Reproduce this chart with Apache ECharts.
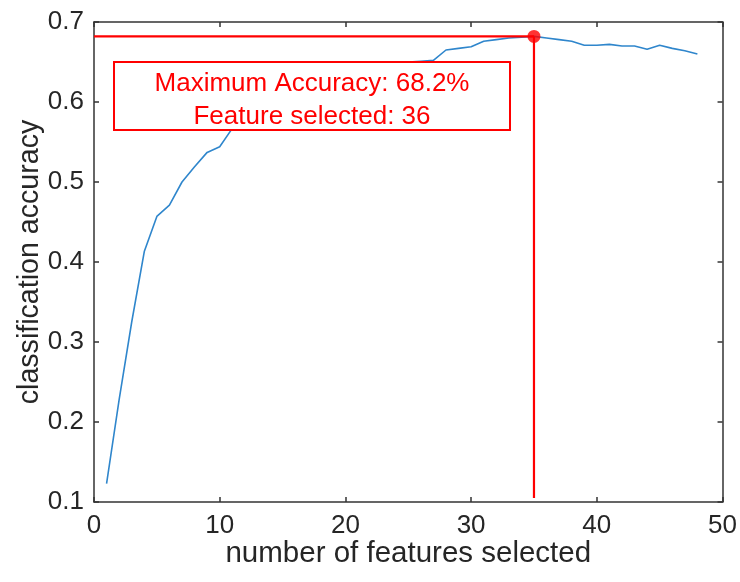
<!DOCTYPE html>
<html>
<head>
<meta charset="utf-8">
<script src="https://cdn.jsdelivr.net/npm/echarts@6/dist/echarts.min.js"></script>
<style>
  html, body { margin: 0; padding: 0; background: #ffffff; }
  #chart { width: 740px; height: 582px; }
</style>
</head>
<body>
<div id="chart"></div>
<script>
// Number of features kept at each step
const featureCounts = [
  1, 2, 3, 4, 5, 6, 7, 8, 9, 10,
  11, 12, 13, 14, 15, 16, 17, 18, 19, 20,
  21, 22, 23, 24, 25, 26, 27, 28, 29, 30,
  31, 32, 33, 34, 35, 36, 37, 38, 39, 40,
  41, 42, 43, 44, 45, 46, 47, 48
];
// Classification accuracy for each feature count
const accuracy = [
  0.123, 0.228, 0.325, 0.413, 0.457, 0.471, 0.500, 0.519, 0.537, 0.544,
  0.567, 0.583, 0.596, 0.606, 0.613, 0.620, 0.626, 0.631, 0.635, 0.638,
  0.641, 0.644, 0.646, 0.648, 0.650, 0.651, 0.652, 0.665, 0.667, 0.669,
  0.676, 0.678, 0.680, 0.681, 0.682, 0.680, 0.678, 0.676, 0.671, 0.671,
  0.672, 0.670, 0.670, 0.666, 0.671, 0.667, 0.664, 0.660
];
// Axis ranges and tick labels
const xTicks = [0, 10, 20, 30, 40, 50];
const yTicks = ['0.1', '0.2', '0.3', '0.4', '0.5', '0.6', '0.7'];
// Reported result of the selection
const featuresSelected = 36;
const dropLineBottom = 0.105;

// Locate the best accuracy on the curve
let bestIdx = 0;
accuracy.forEach((v, i) => { if (v > accuracy[bestIdx]) bestIdx = i; });
const bestX = featureCounts[bestIdx];
const bestY = accuracy[bestIdx];

const xMin = xTicks[0], xMax = xTicks[xTicks.length - 1];
const yMin = parseFloat(yTicks[0]), yMax = parseFloat(yTicks[yTicks.length - 1]);

const FONT = "'Liberation Sans', Arial, Helvetica, sans-serif";
const AXIS_COLOR = '#333333';
const TEXT_COLOR = '#262626';
const RED = '#ff0000';

const chart = echarts.init(document.getElementById('chart'), null, { renderer: 'canvas' });

function xAxisDef(pos, showLabel) {
  return {
    type: 'value', position: pos, min: xMin, max: xMax, interval: 10,
    axisLine: { show: true, onZero: false, lineStyle: { color: AXIS_COLOR, width: 1.5 } },
    axisTick: { show: true, inside: true, length: 5, lineStyle: { color: AXIS_COLOR, width: 1.5 } },
    axisLabel: { show: showLabel, margin: 11, fontSize: 26, fontFamily: FONT, color: TEXT_COLOR },
    splitLine: { show: false },
    name: showLabel ? 'number of features selected' : '',
    nameLocation: 'middle', nameGap: 37, nameMoveOverlap: false,
    nameTextStyle: { fontSize: 29.5, fontFamily: FONT, color: TEXT_COLOR }
  };
}
function yAxisDef(pos, showLabel) {
  return {
    type: 'value', position: pos, min: yMin, max: yMax, interval: 0.1,
    axisLine: { show: true, onZero: false, lineStyle: { color: AXIS_COLOR, width: 1.5 } },
    axisTick: { show: true, inside: true, length: 5, lineStyle: { color: AXIS_COLOR, width: 1.5 } },
    axisLabel: { show: showLabel, margin: 10, fontSize: 26, fontFamily: FONT, color: TEXT_COLOR,
                 formatter: v => v.toFixed(1) },
    splitLine: { show: false },
    name: showLabel ? 'classification accuracy' : '',
    nameLocation: 'middle', nameGap: 49, nameMoveOverlap: false,
    nameTextStyle: { fontSize: 28.6, fontFamily: FONT, color: TEXT_COLOR }
  };
}

const boxLeft = 114, boxTop = 62, boxW = 396, boxH = 68;

chart.setOption({
  animation: false,
  backgroundColor: '#ffffff',
  grid: { left: 94, right: 17, top: 22, bottom: 80 },
  xAxis: [xAxisDef('bottom', true), xAxisDef('top', false)],
  yAxis: [yAxisDef('left', true), yAxisDef('right', false)],
  series: [
    {
      type: 'line',
      data: featureCounts.map((x, i) => [x, accuracy[i]]),
      showSymbol: false,
      lineStyle: { color: '#2f86cc', width: 1.6 },
      z: 2
    },
    {
      type: 'line',
      data: [[xMin, bestY], [bestX, bestY]],
      showSymbol: false,
      lineStyle: { color: RED, width: 2.2 },
      z: 3
    },
    {
      type: 'line',
      data: [[bestX, bestY], [bestX, dropLineBottom]],
      showSymbol: false,
      lineStyle: { color: RED, width: 2.2 },
      z: 3
    },
    {
      type: 'scatter',
      data: [[bestX, bestY]],
      symbol: 'circle',
      symbolSize: 13,
      itemStyle: { color: RED },
      z: 4
    }
  ],
  graphic: [
    {
      type: 'rect',
      z: 100,
      shape: { x: boxLeft, y: boxTop, width: boxW, height: boxH },
      style: { fill: '#ffffff', stroke: RED, lineWidth: 2 }
    },
    {
      type: 'text',
      z: 101,
      x: boxLeft + boxW / 2,
      y: boxTop + boxH / 2 + 4,
      style: {
        text: 'Maximum Accuracy: ' + (bestY * 100).toFixed(1) + '%\nFeature selected: ' + featuresSelected,
        align: 'center',
        verticalAlign: 'middle',
        fontSize: 26,
        lineHeight: 33,
        fontFamily: FONT,
        fill: RED
      }
    }
  ]
});
</script>
</body>
</html>
